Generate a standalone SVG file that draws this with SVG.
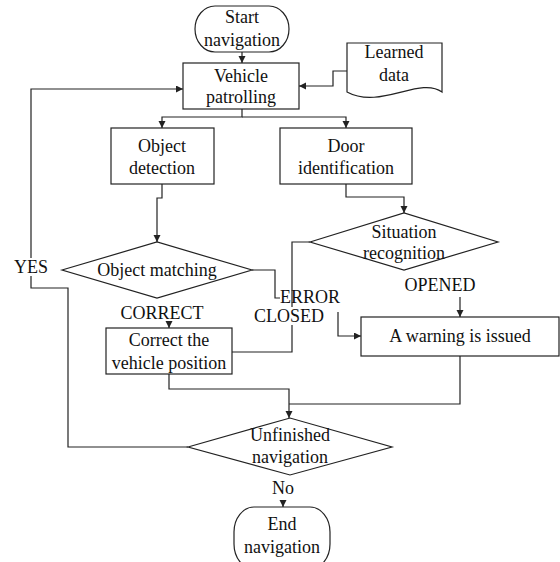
<svg xmlns="http://www.w3.org/2000/svg" width="560" height="562" viewBox="0 0 560 562">
<defs>
<style>
.n{fill:#fff;stroke:#222;stroke-width:1.2}
.t{font-family:"Liberation Serif","Times New Roman",serif;font-size:18px;fill:#111;text-anchor:middle}
.l{font-family:"Liberation Serif","Times New Roman",serif;font-size:18px;fill:#111}
.c{fill:none;stroke:#222;stroke-width:1.2}
.bg{fill:#fff;stroke:none}
</style>
<marker id="a" markerUnits="userSpaceOnUse" markerWidth="8" markerHeight="8" refX="7" refY="3.5" orient="auto">
<path d="M0,0 L7,3.5 L0,7 z" fill="#222"/>
</marker>
</defs>
<rect width="560" height="562" fill="#fff"/>
<g id="connectors">
<path class="c" d="M242,52 V63" marker-end="url(#a)"/>
<path class="c" d="M347,71 H333 V86 H299" marker-end="url(#a)"/>
<path class="c" d="M242,109 V117 H162 V128" marker-end="url(#a)"/>
<path class="c" d="M242,117 H346 V128" marker-end="url(#a)"/>
<path class="c" d="M162,184 V198 H157 V242" marker-end="url(#a)"/>
<path class="c" d="M346,184 V197 H404 V213" marker-end="url(#a)"/>
<path class="c" d="M252,270 H275 V298 H280"/>
<path class="c" d="M310,242 H292 V352 H232"/>
<path class="c" d="M338,312 V336 H361" marker-end="url(#a)"/>
<path class="c" d="M169,321 V328" marker-end="url(#a)"/>
<path class="c" d="M460,297 V317" marker-end="url(#a)"/>
<path class="c" d="M169,374 V389 H289 V418" marker-end="url(#a)"/>
<path class="c" d="M460,356 V404 H289"/>
<path class="c" d="M188,447 H68 V288 H31 V89 H183" marker-end="url(#a)"/>
<path class="c" d="M283,500 V507" marker-end="url(#a)"/>
</g>
<g id="labels">
<rect class="bg" x="14" y="258" width="34" height="18"/>
<text class="t" x="31" y="273">YES</text>
<text class="t" x="162" y="319">CORRECT</text>
<text class="l" x="280" y="303">ERROR</text>
<rect class="bg" x="255" y="307" width="68" height="18"/>
<text class="t" x="289" y="322">CLOSED</text>
<text class="t" x="440" y="291">OPENED</text>
<text class="t" x="283" y="494">No</text>
</g>
<g id="start">
<rect class="n" x="195" y="6" width="94" height="46" rx="20" ry="23"/>
<text class="t" x="242" y="23">Start</text>
<text class="t" x="242" y="46">navigation</text>
</g>
<g id="vehicle">
<rect class="n" x="183" y="63" width="116" height="46"/>
<text class="t" x="241" y="82">Vehicle</text>
<text class="t" x="241" y="103">patrolling</text>
</g>
<g id="learned">
<path class="n" d="M347,43 H442 V92 C420,76 380,110 347,92 Z"/>
<text class="t" x="394" y="58">Learned</text>
<text class="t" x="394" y="81">data</text>
</g>
<g id="objdet">
<rect class="n" x="111" y="128" width="103" height="56"/>
<text class="t" x="162" y="152">Object</text>
<text class="t" x="162" y="174">detection</text>
</g>
<g id="door">
<rect class="n" x="280" y="128" width="132" height="56"/>
<text class="t" x="346" y="152">Door</text>
<text class="t" x="346" y="174">identification</text>
</g>
<g id="objmatch">
<polygon class="n" points="62,270 157,242 252,270 157,298"/>
<text class="t" x="157" y="276">Object matching</text>
</g>
<g id="situation">
<polygon class="n" points="310,242 404,213 498,242 404,270"/>
<text class="t" x="404" y="238">Situation</text>
<text class="t" x="404" y="259">recognition</text>
</g>
<g id="correct">
<rect class="n" x="106" y="328" width="126" height="46"/>
<text class="t" x="169" y="346">Correct the</text>
<text class="t" x="169" y="369">vehicle position</text>
</g>
<g id="warning">
<rect class="n" x="361" y="317" width="198" height="39"/>
<text class="t" x="460" y="342">A warning is issued</text>
</g>
<g id="unfinished">
<polygon class="n" points="188,447 290,418 392,447 290,475"/>
<text class="t" x="290" y="441">Unfinished</text>
<text class="t" x="290" y="463">navigation</text>
</g>
<g id="end">
<rect class="n" x="234" y="507" width="96" height="62" rx="20" ry="25"/>
<text class="t" x="282" y="530">End</text>
<text class="t" x="282" y="553">navigation</text>
</g>
</svg>
